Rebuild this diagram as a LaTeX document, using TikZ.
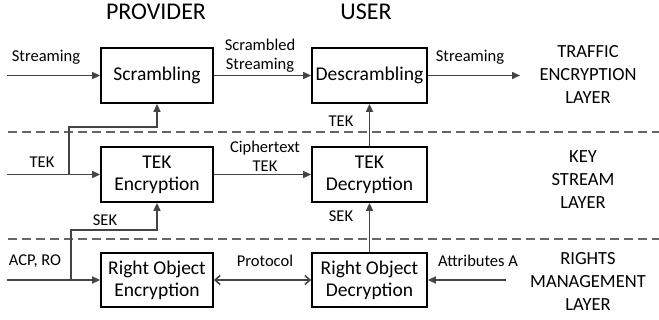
\documentclass[tikz,border=0pt]{standalone}
\usepackage{fontspec}
\setmainfont{Carlito}
\usetikzlibrary{arrows.meta}
\definecolor{linegray}{HTML}{444444}
\definecolor{dashgray}{HTML}{666666}
\begin{document}
\begin{tikzpicture}[x=1pt,y=-1pt,
  block/.style={draw=black,line width=1.8pt,minimum width=112pt,minimum height=55pt,
    align=center,inner sep=2pt,font=\fontsize{19.5}{22}\selectfont},
  flow/.style={draw=linegray,line width=1.6pt,-{Triangle[length=8pt,width=7pt]}},
  twoway/.style={draw=linegray,line width=1.6pt,{Straight Barb[length=5pt,width=9pt]}-{Straight Barb[length=5pt,width=9pt]}},
  lbl/.style={font=\fontsize{16.5}{19}\selectfont,align=center,inner sep=0pt},
  layer/.style={font=\fontsize{18.5}{23}\selectfont,align=center,inner sep=0pt},
  title/.style={font=\fontsize{24}{26}\selectfont,inner sep=0pt},
  sep/.style={draw=dashgray,line width=1.5pt,dash pattern=on 9pt off 5pt}]
\useasboundingbox (0,0) rectangle (659,320);

% column titles
\node[title] (tprov) at (156,12) {PROVIDER};
\node[title] (tuser) at (366,12) {USER};

% processing blocks
\node[block] (scr)  at (157,75.5)  {Scrambling};
\node[block,minimum width=115pt] (dscr) at (369.5,75.5) {Descrambling};
\node[block] (tenc) at (157,174.5) {TEK\\Encryption};
\node[block,minimum width=115pt] (tdec) at (369.5,174.5) {TEK\\Decryption};
\node[block,minimum height=54pt] (renc) at (157,280) {Right Object\\Encryption};
\node[block,minimum width=115pt,minimum height=54pt] (rdec) at (369.5,280) {Right Object\\Decryption};

% layer separators
\coordinate (s1a) at (8,132);  \coordinate (s1b) at (659,132);
\coordinate (s2a) at (8,239);  \coordinate (s2b) at (659,239);
\draw[sep] (s1a) -- (s1b);
\draw[sep] (s2a) -- (s2b);

% layer names
\node[layer] (l1) at (588,75) {TRAFFIC\\ENCRYPTION\\LAYER};
\node[layer] (l2) at (583,180) {KEY\\STREAM\\LAYER};
\node[layer] (l3) at (588,281) {RIGHTS\\MANAGEMENT\\LAYER};

% free ends of the connectors
\coordinate (inStream) at (7,75.5);
\coordinate (outStream) at (520,75.5);
\coordinate (inTek) at (7,174.5);
\coordinate (inAcp) at (7,280);
\coordinate (inAttr) at (506,280);
\coordinate (tekFork) at (69,174.5);
\coordinate (acpFork) at (71,280);

% traffic encryption layer
\draw[flow] (inStream) -- (scr.west);
\draw[flow] (scr.east) -- (dscr.west);
\draw[flow] (dscr.east) -- (outStream);
\node[lbl] (lStream) at (46,57) {Streaming};
\node[lbl] (lScr) at (260,55.5) {Scrambled\\Streaming};
\node[lbl] (lOut) at (470,57) {Streaming};

% key stream layer
\draw[flow] (inTek) -- (tenc.west);
\draw[flow] (tekFork) |- (104,127) -| (scr.south);
\draw[flow] (tenc.east) -- (tdec.west);
\draw[flow] (tdec.north) -- (dscr.south);
\node[lbl] (lTek) at (42,162) {TEK};
\node[lbl] (lCiph) at (265,156) {Ciphertext\\TEK};
\node[lbl] (lTek2) at (341,121) {TEK};

% rights management layer
\draw[flow] (inAcp) -- (renc.west);
\draw[flow] (acpFork) |- (104,230) -| (tenc.south);
\draw[twoway] (renc.east) -- (rdec.west);
\draw[flow] (rdec.north) -- (tdec.south);
\draw[flow] (inAttr) -- (rdec.east);
\node[lbl] (lSek) at (105,220) {SEK};
\node[lbl] (lSek2) at (341,216) {SEK};
\node[lbl] (lAcp) at (35,261) {ACP, RO};
\node[lbl] (lProt) at (265,261) {Protocol};
\node[lbl] (lAttr) at (478,261) {Attributes A};
\end{tikzpicture}
\end{document}
